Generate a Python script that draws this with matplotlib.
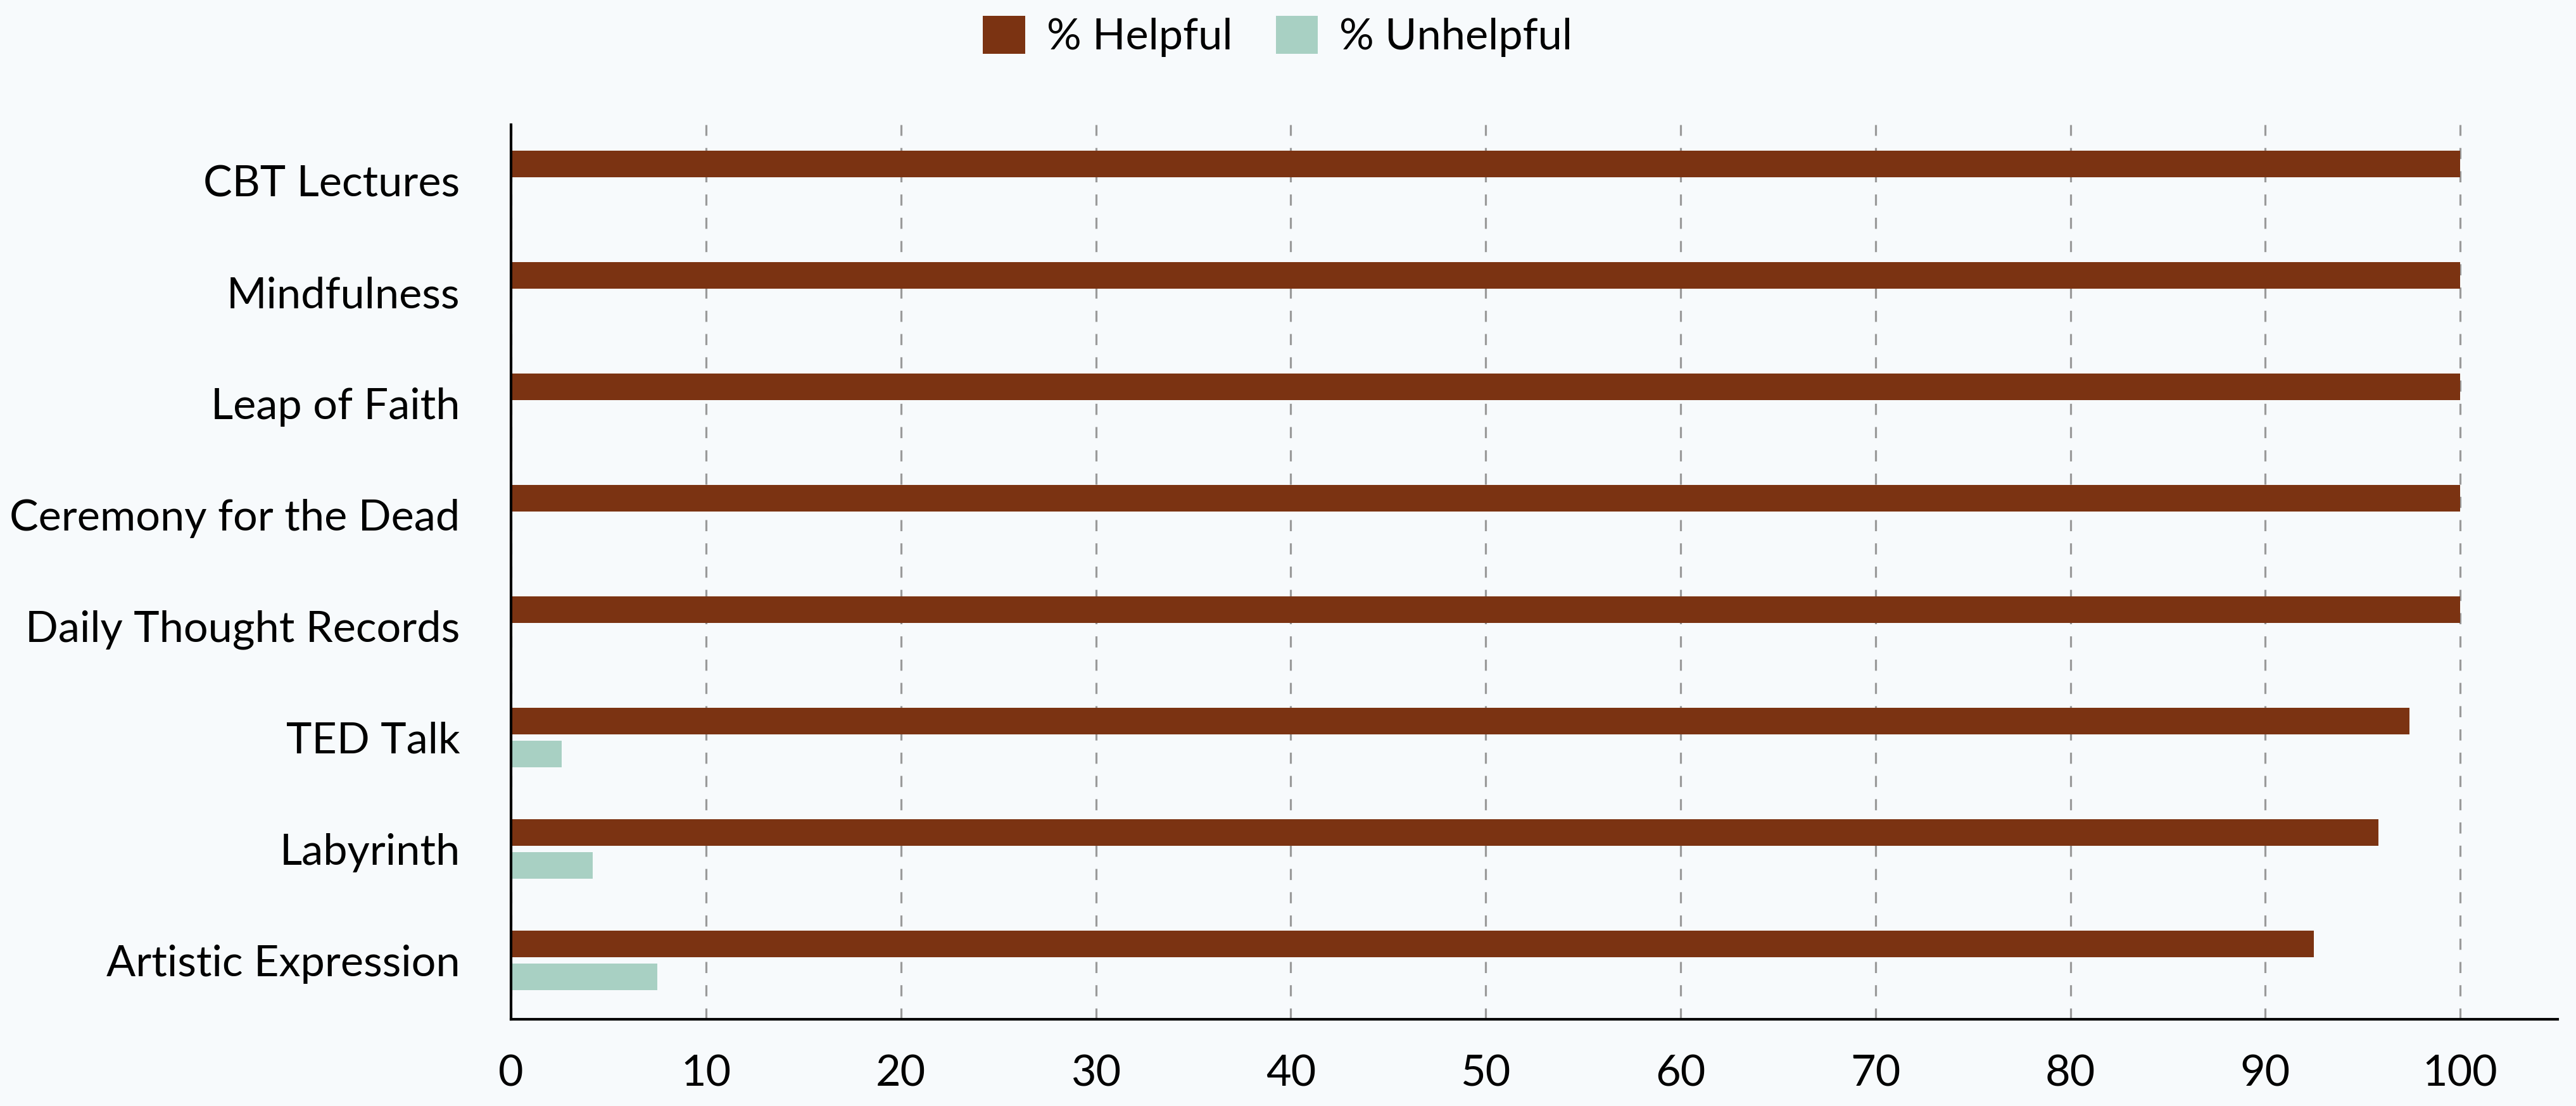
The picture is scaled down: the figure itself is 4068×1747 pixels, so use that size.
import matplotlib.pyplot as plt
from matplotlib.patches import Patch
import numpy as np

plt.rcParams['font.family'] = ['Lato', 'DejaVu Sans']

activities = ['CBT Lectures', 'Mindfulness', 'Leap of Faith', 'Ceremony for the Dead',
              'Daily Thought Records', 'TED Talk', 'Labyrinth', 'Artistic Expression']
helpful = [100, 100, 100, 100, 100, 97.4, 95.8, 92.5]
unhelpful = [0, 0, 0, 0, 0, 2.6, 4.2, 7.5]

brown = '#7b3312'
teal = '#a8d0c3'
bg = '#f7fafc'

fig = plt.figure(figsize=(20.34, 8.735), dpi=200, facecolor=bg)
ax = fig.add_axes([0.1984, 0.0784, 0.7945, 0.8088])
ax.set_facecolor(bg)

y = np.arange(len(activities))
ax.barh(y - 0.148, helpful, height=0.24, color=brown, zorder=3)
ax.barh(y + 0.148, unhelpful, height=0.24, color=teal, zorder=3)

ax.set_xlim(0, 105)
ax.set_ylim(7.53, -0.5)
ax.set_xticks(range(0, 101, 10))
ax.set_yticks(y)
ax.set_yticklabels(activities)
ax.tick_params(axis='both', length=0, labelsize=24.6, colors='black')
ax.tick_params(axis='x', pad=20)
ax.tick_params(axis='y', pad=29)

ax.grid(axis='x', color='#9a9a9a', linestyle=(0, (5.5, 6)), linewidth=1.15, zorder=1)
ax.grid(axis='y', visible=False)
for s in ['top', 'right']:
    ax.spines[s].set_visible(False)
for s in ['left', 'bottom']:
    ax.spines[s].set_color('black')
    ax.spines[s].set_linewidth(1.5)
    ax.spines[s].set_zorder(4)

handles = [Patch(facecolor=brown, label='% Helpful'),
           Patch(facecolor=teal, label='% Unhelpful')]
fig.legend(handles=handles, loc='center', bbox_to_anchor=(0.496, 0.967), ncol=2,
           frameon=False, fontsize=24.6, handlelength=0.97, handleheight=0.97,
           handletextpad=0.5, columnspacing=1.0)

fig.savefig('out.png', dpi=200, facecolor=bg)
